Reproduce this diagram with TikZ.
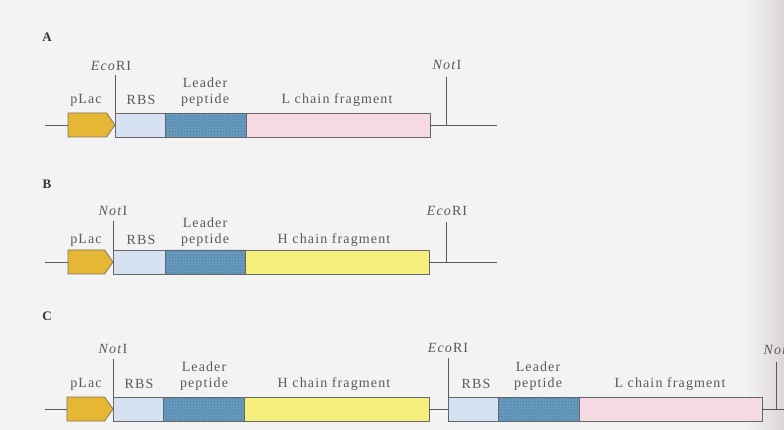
\documentclass[tikz,border=0pt]{standalone}
\usepackage{fontspec}
\setmainfont{Liberation Serif}
\newfontfamily\labfont{Liberation Serif}[LetterSpace=8]
\usetikzlibrary{shapes.symbols,patterns}
\definecolor{bg}{HTML}{F3F3F3}
\definecolor{shade}{HTML}{DCD5D6}
\definecolor{ink}{HTML}{5A5A5A}
\definecolor{boxline}{HTML}{666666}
\definecolor{placc}{HTML}{E6B735}
\definecolor{rbsc}{HTML}{D6E1F1}
\definecolor{leadc}{HTML}{6A9CC0}
\definecolor{leaddots}{HTML}{3F7399}
\definecolor{lchc}{HTML}{F6DAE2}
\definecolor{hchc}{HTML}{F5F07C}
\begin{document}
\begin{tikzpicture}[x=1pt,y=-1pt,
  seg/.style={draw=boxline, line width=0.8pt, minimum height=24pt, inner sep=0pt, outer sep=0pt, anchor=west},
  placbox/.style={seg, shape=signal, signal to=east, signal pointer angle=110, fill=placc, draw=boxline!80!placc},
  rbsbox/.style={seg, fill=rbsc},
  leadbox/.style={seg, fill=leadc, postaction={pattern=crosshatch dots, pattern color=leaddots}},
  lchbox/.style={seg, fill=lchc},
  hchbox/.style={seg, fill=hchc},
  dna/.style={draw=ink, line width=0.8pt},
  lab/.style={text=ink, font=\labfont\fontsize{14}{16}\selectfont, inner sep=0pt, align=center},
  panel/.style={text=black!80, font=\bfseries\fontsize{13}{15}\selectfont, inner sep=0pt}]
\useasboundingbox (0,0) rectangle (784,430);
\fill[bg] (0,0) rectangle (784,430);
\shade[left color=bg, right color=shade, shading angle=90] (745,0) rectangle (784,430);

% ---------- A ----------
\node[panel] (panA) at (47,37) {A};
\node[placbox, minimum width=47pt] (pA) at (68,125) {};
\node[rbsbox, minimum width=50pt] (rA) at (115,125) {};
\node[leadbox, minimum width=81pt] (ldA) at (165,125) {};
\node[lchbox, minimum width=184pt] (lA) at (246,125) {};
\coordinate (sA) at (45,125);
\coordinate (eA) at (497,125);
\coordinate (notA) at (446,125);
\draw[dna] (sA) -- (pA.west);
\draw[dna] (lA.east) -- (eA);
\draw[dna] (rA.north west) -- ++(0,-38);
\draw[dna] (notA) -- ++(0,-48);
\node[lab] (ecoAl) at (111,66) {\textit{Eco}RI};
\node[lab] (notAl) at (447,65) {\textit{Not}I};
\node[lab] (plA) at (86,100) {pLac};
\node[lab] (rbA) at (141,100) {RBS};
\node[lab] (lpA) at (205,92) {Leader\\peptide};
\node[lab] (lcA) at (337,100) {L chain fragment};

% ---------- B ----------
\node[panel] (panB) at (47,184) {B};
\node[placbox, minimum width=45pt] (pB) at (68,262) {};
\node[rbsbox, minimum width=52pt] (rB) at (113,262) {};
\node[leadbox, minimum width=80pt] (ldB) at (165,262) {};
\node[hchbox, minimum width=184pt] (hB) at (245,262) {};
\coordinate (sB) at (45,262);
\coordinate (eB) at (497,262);
\coordinate (ecoB) at (446,262);
\draw[dna] (sB) -- (pB.west);
\draw[dna] (hB.east) -- (eB);
\draw[dna] (rB.north west) -- ++(0,-29);
\draw[dna] (ecoB) -- ++(0,-40);
\node[lab] (notBl) at (113,211) {\textit{Not}I};
\node[lab] (ecoBl) at (447,211) {\textit{Eco}RI};
\node[lab] (plB) at (86,240) {pLac};
\node[lab] (rbB) at (141,240) {RBS};
\node[lab] (lpB) at (205,232) {Leader\\peptide};
\node[lab] (hcB) at (334,240) {H chain fragment};

% ---------- C ----------
\node[panel] (panC) at (47,316) {C};
\node[placbox, minimum width=46pt] (pC) at (67,409) {};
\node[rbsbox, minimum width=50pt] (rC) at (113,409) {};
\node[leadbox, minimum width=81pt] (ldC) at (163,409) {};
\node[hchbox, minimum width=185pt] (hC) at (244,409) {};
\node[rbsbox, minimum width=50pt] (rC2) at (448,409) {};
\node[leadbox, minimum width=81pt] (ldC2) at (498,409) {};
\node[lchbox, minimum width=183pt] (lC) at (579,409) {};
\coordinate (sC) at (45,409);
\coordinate (eC) at (784,409);
\coordinate (notC) at (776,409);
\draw[dna] (sC) -- (pC.west);
\draw[dna] (hC.east) -- (rC2.west);
\draw[dna] (lC.east) -- (eC);
\draw[dna] (rC.north west) -- ++(0,-38);
\draw[dna] (rC2.north west) -- ++(0,-39);
\draw[dna] (notC) -- ++(0,-47);
\node[lab] (notCl) at (113,349) {\textit{Not}I};
\node[lab] (ecoCl) at (448,348) {\textit{Eco}RI};
\node[lab] (notC2l) at (778,350) {\textit{Not}I};
\node[lab] (plC) at (86,384) {pLac};
\node[lab] (rbC) at (139,384) {RBS};
\node[lab] (lpC) at (204,376) {Leader\\peptide};
\node[lab] (hcC) at (334,384) {H chain fragment};
\node[lab] (rbC2) at (476,384) {RBS};
\node[lab] (lpC2) at (538,376) {Leader\\peptide};
\node[lab] (lcC) at (670,384) {L chain fragment};
\end{tikzpicture}
\end{document}
